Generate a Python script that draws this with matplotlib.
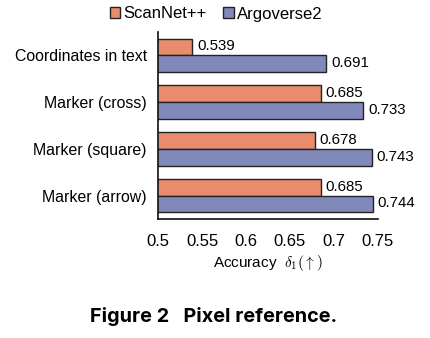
import matplotlib
matplotlib.use("Agg")
import matplotlib.pyplot as plt
import numpy as np

categories = ["Coordinates in text", "Marker (cross)", "Marker (square)", "Marker (arrow)"]
scannet = [0.539, 0.685, 0.678, 0.685]
argoverse = [0.691, 0.733, 0.743, 0.744]
xticks = [0.5, 0.55, 0.6, 0.65, 0.7, 0.75]
xtick_labels = ["0.5", "0.55", "0.6", "0.65", "0.7", "0.75"]

plt.rcParams['font.family'] = ['Liberation Sans', 'DejaVu Sans']
plt.rcParams['mathtext.fontset'] = 'cm'

fig = plt.figure(figsize=(4.3, 3.38), dpi=100)
ax = fig.add_axes([158/430, 1-219/338, 220/430, 187/338])

y = np.arange(len(categories))
h = 0.36
c1 = '#E98C6E'
c2 = '#8189BB'
b1 = ax.barh(y - h/2, scannet, height=h, left=0, color=c1, edgecolor='#222222', linewidth=1.0, label='ScanNet++')
b2 = ax.barh(y + h/2, argoverse, height=h, left=0, color=c2, edgecolor='#222222', linewidth=1.0, label='Argoverse2')

for yy, v in zip(y - h/2, scannet):
    ax.annotate(f"{v:.3f}", (v, yy), xytext=(3.5, 0.5), textcoords='offset points', va='center', ha='left', fontsize=10.8)
for yy, v in zip(y + h/2, argoverse):
    ax.annotate(f"{v:.3f}", (v, yy), xytext=(3.5, 0.5), textcoords='offset points', va='center', ha='left', fontsize=10.8)

ax.set_xlim(0.5, 0.75)
ax.set_ylim(3.5, -0.5)
ax.set_yticks(y)
ax.set_yticklabels(categories, fontsize=11.4)
ax.set_xticks(xticks)
ax.set_xticklabels(xtick_labels, fontsize=12)
ax.tick_params(axis='both', length=0)
ax.tick_params(axis='x', pad=10.5)
ax.tick_params(axis='y', pad=8)
for s in ['top', 'right']:
    ax.spines[s].set_visible(False)
for s in ['left', 'bottom']:
    ax.spines[s].set_color('#111111')
    ax.spines[s].set_linewidth(1.2)
ax.set_xlabel(r"Accuracy  $\delta_1(\uparrow)$", fontsize=11, labelpad=3)

fig.legend(handles=[b1, b2], loc='center', bbox_to_anchor=(216/430, 1-14/338), ncol=2,
           frameon=False, fontsize=12, handlelength=0.62, handleheight=0.62,
           handletextpad=0.2, columnspacing=1.0)

fig.text(214/430, 1-317/338, "Figure 2   Pixel reference.", ha='center', va='center',
         fontsize=14.3, fontweight='bold', family=['Inter', 'DejaVu Sans'])

fig.savefig("out.png", dpi=100)
